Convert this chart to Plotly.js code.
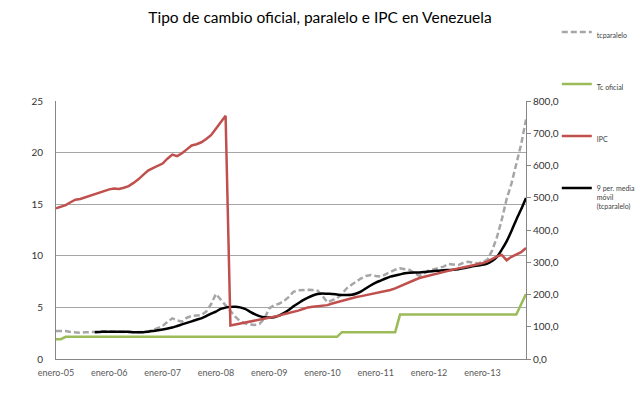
<!DOCTYPE html>
<html>
<head>
<meta charset="utf-8">
<script src="https://cdn.plot.ly/plotly-3.0.1.min.js"></script>
<style>html,body{margin:0;padding:0;background:#fff;}#chart{width:640px;height:394px;}</style>
</head>
<body>
<div id="chart"></div>
<script>
// Category tick labels (shown every 11th category in the original)
const tickLabels = ["enero-05","enero-06","enero-07","enero-08","enero-09","enero-10","enero-11","enero-12","enero-13"];
const tickCategories = [0, 11, 22, 33, 44, 55, 66, 77, 88];

// Tipo de cambio paralelo (Bs.F/US$), left axis
const tcparalelo = [
  2.72,2.75,2.72,2.62,2.55,2.55,2.58,2.60,2.68,2.70,
  2.68,2.66,2.66,2.66,2.64,2.60,2.58,2.58,2.60,2.65,
  2.80,2.97,3.20,3.60,3.94,3.75,3.62,4.00,4.17,4.22,
  4.26,4.60,5.30,6.30,5.75,5.20,4.60,4.10,3.65,3.45,
  3.35,3.30,3.40,3.90,4.90,5.20,5.35,5.60,6.00,6.50,
  6.65,6.69,6.70,6.68,6.62,6.10,5.50,5.70,5.88,6.30,
  6.85,7.20,7.55,7.82,8.05,8.14,8.05,7.98,8.20,8.46,
  8.65,8.79,8.72,8.62,8.30,8.05,8.30,8.60,8.70,8.79,
  8.95,9.20,9.15,9.10,9.30,9.43,9.35,9.27,9.40,9.60,
  10.5,11.8,13.5,15.5,17.0,19.0,20.8,23.2
];

// Tipo de cambio oficial (Bs.F/US$), left axis
const tcOficial = [
  1.92,1.92,2.15,2.15,2.15,2.15,2.15,2.15,2.15,2.15,
  2.15,2.15,2.15,2.15,2.15,2.15,2.15,2.15,2.15,2.15,
  2.15,2.15,2.15,2.15,2.15,2.15,2.15,2.15,2.15,2.15,
  2.15,2.15,2.15,2.15,2.15,2.15,2.15,2.15,2.15,2.15,
  2.15,2.15,2.15,2.15,2.15,2.15,2.15,2.15,2.15,2.15,
  2.15,2.15,2.15,2.15,2.15,2.15,2.15,2.15,2.15,2.60,
  2.60,2.60,2.60,2.60,2.60,2.60,2.60,2.60,2.60,2.60,
  2.60,4.30,4.30,4.30,4.30,4.30,4.30,4.30,4.30,4.30,
  4.30,4.30,4.30,4.30,4.30,4.30,4.30,4.30,4.30,4.30,
  4.30,4.30,4.30,4.30,4.30,4.30,5.30,6.30
];

// IPC, right axis
const ipc = [
  467,472,477,486,494,496,501,507,512,517,
  522,526,529,527,531,536,546,557,571,584,
  592,598,606,621,634,629,638,650,662,666,
  672,682,694,714,733,754,104,107,110,114,
  116,118,121,124,127,131,134,139,142,147,
  150,155,160,162,163,165,167,172,176,181,
  186,189,192,195,198,201,203,206,210,214,
  219,226,232,238,245,251,255,259,263,267,
  270,274,277,281,284,287,291,294,297,302,
  310,318,323,306,317,325,331,344
];

// 9 per. media movil (tcparalelo), left axis
const mediaMovil = [
  null,null,null,null,null,null,null,null,2.60,2.62,
  2.64,2.65,2.65,2.65,2.65,2.63,2.60,2.58,2.60,2.65,
  2.71,2.78,2.85,2.95,3.05,3.20,3.35,3.50,3.65,3.80,
  3.94,4.15,4.40,4.60,4.85,4.98,5.05,5.07,5.00,4.85,
  4.60,4.35,4.15,4.04,4.02,4.05,4.20,4.45,4.75,5.10,
  5.40,5.70,5.95,6.15,6.30,6.35,6.32,6.30,6.25,6.20,
  6.20,6.22,6.35,6.55,6.85,7.15,7.40,7.60,7.80,7.98,
  8.10,8.20,8.30,8.35,8.37,8.38,8.42,8.48,8.53,8.56,
  8.60,8.62,8.65,8.70,8.78,8.88,8.98,9.05,9.12,9.25,
  9.50,9.90,10.6,11.4,12.4,13.5,14.5,15.6
];

const cats = tcparalelo.map((_, i) => i);
const lastCat = cats.length - 1;

const traces = [
  {x: cats, y: tcOficial, name: "Tc oficial", type: "scatter", mode: "lines",
   line: {color: "#9bbb59", width: 2.5}, legendrank: 2, legendgroup: "b"},
  {x: cats, y: tcparalelo, name: "tcparalelo", type: "scatter", mode: "lines",
   line: {color: "#a6a6a6", width: 2.5, dash: "6px,3px"}, legendrank: 1, legendgroup: "a"},
  {x: cats, y: mediaMovil, name: "9 per. media<br>móvil<br>(tcparalelo)", type: "scatter", mode: "lines",
   line: {color: "#000000", width: 2.5, shape: "spline", smoothing: 0.6}, legendrank: 4, legendgroup: "d", connectgaps: false},
  {x: cats, y: ipc, name: "IPC", type: "scatter", mode: "lines", yaxis: "y2",
   line: {color: "#c0504d", width: 2.5}, legendrank: 3, legendgroup: "c"}
];

const layout = {
  width: 640, height: 394,
  margin: {l: 56, r: 114, t: 101, b: 35},
  paper_bgcolor: "#ffffff", plot_bgcolor: "#ffffff",
  separators: ",.",
  font: {family: "Lato, 'Open Sans', sans-serif", color: "#404040"},
  title: {text: "Tipo de cambio oficial, paralelo e IPC en Venezuela",
          font: {family: "Lato, sans-serif", size: 15.5, color: "#000000"},
          x: 0.5, xanchor: "center", y: 0.955, yanchor: "middle"},
  showlegend: true,
  legend: {xref: "container", yref: "container", x: 0.870, xanchor: "left", y: 0.947, yanchor: "top",
           font: {size: 7, color: "#404040"}, tracegroupgap: 33,
           traceorder: "grouped", itemwidth: 30, valign: "top", bgcolor: "rgba(0,0,0,0)"},
  xaxis: {range: [0, lastCat], tickmode: "array", tickvals: tickCategories, ticktext: tickLabels,
          showline: true, linecolor: "#868686", linewidth: 1, showgrid: false, zeroline: false,
          ticks: "", ticklabelstandoff: 5, tickfont: {size: 9, color: "#595959"}},
  yaxis: {range: [0, 25], dtick: 5, tick0: 0, showgrid: true, gridcolor: "#a6a6a6", gridwidth: 1,
          showline: true, linecolor: "#868686", zeroline: false, ticks: "",
          ticklabelstandoff: 10, tickfont: {size: 10, color: "#333333"}},
  yaxis2: {range: [0, 800], dtick: 100, tick0: 0, overlaying: "y", side: "right",
           tickformat: ".1f", showgrid: false, zeroline: false,
           showline: true, linecolor: "#868686", ticks: "outside", ticklen: 4, tickcolor: "#868686",
           tickfont: {size: 10, color: "#333333"}}
};

Plotly.newPlot("chart", traces, layout, {staticPlot: true, displayModeBar: false});
</script>
</body>
</html>
